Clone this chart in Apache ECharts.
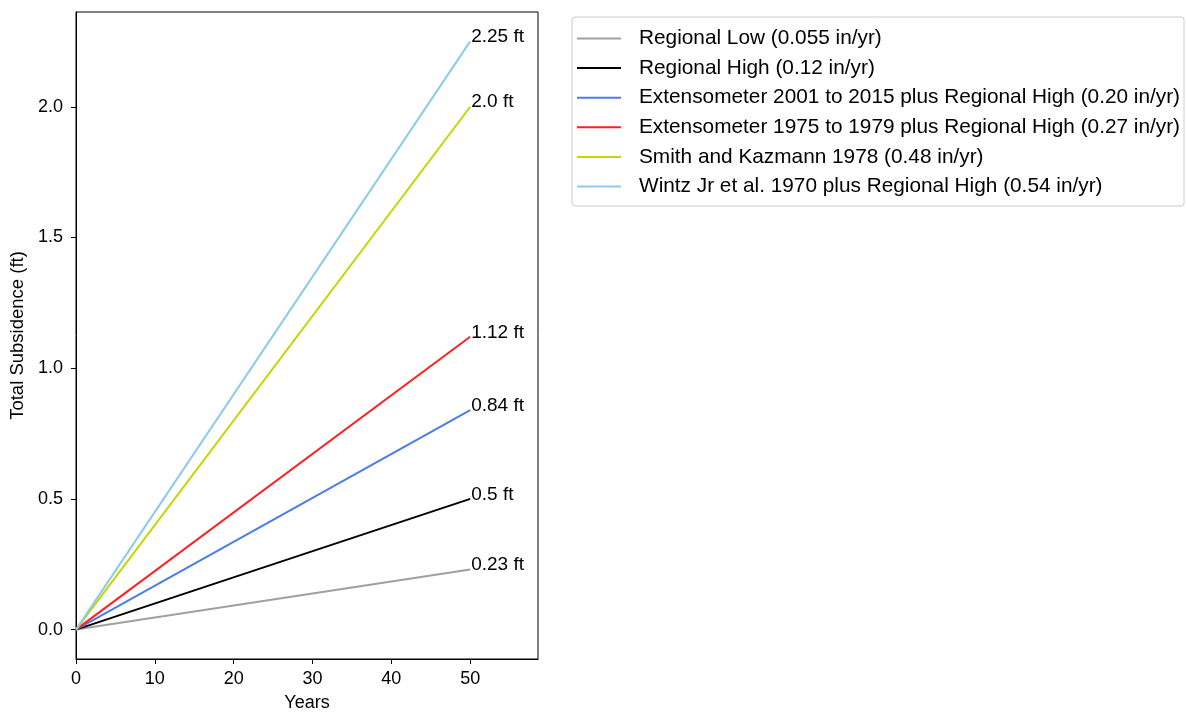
<!DOCTYPE html>
<html>
<head>
<meta charset="utf-8">
<script src="https://cdn.jsdelivr.net/npm/echarts@6/dist/echarts.min.js"></script>
<style>
html,body{margin:0;padding:0;background:#fff;}
#chart{width:1186px;height:713px;}
</style>
</head>
<body>
<div id="chart"></div>
<script>
var seriesNames = [
    'Regional Low (0.055 in/yr)',
    'Regional High (0.12 in/yr)',
    'Extensometer 2001 to 2015 plus Regional High (0.20 in/yr)',
    'Extensometer 1975 to 1979 plus Regional High (0.27 in/yr)',
    'Smith and Kazmann 1978 (0.48 in/yr)',
    'Wintz Jr et al. 1970 plus Regional High (0.54 in/yr)'
];
var years = [0, 50];
var startValues = [0, 0, 0, 0, 0, 0];
var endValues = [0.23, 0.5, 0.84, 1.12, 2.0, 2.25];
var endLabels = ['0.23 ft', '0.5 ft', '0.84 ft', '1.12 ft', '2.0 ft', '2.25 ft'];
var lineColors = ['#a0a0a0', '#000000', '#4a7de6', '#ff1f1f', '#c4d600', '#8ccbea'];
var xTicks = [0, 10, 20, 30, 40, 50];
var yTicks = [0, 0.5, 1.0, 1.5, 2.0];

var myChart = echarts.init(document.getElementById('chart'));
var font = 'Liberation Sans, Arial, sans-serif';

var seriesList = [];
for (var i = 0; i < seriesNames.length; i++) {
    seriesList.push({
        name: seriesNames[i],
        type: 'line',
        symbol: 'none',
        color: lineColors[i],
        lineStyle: {width: 2, color: lineColors[i]},
        data: [[years[0], startValues[i]], [years[1], endValues[i]]],
        endLabel: {
            show: true,
            formatter: endLabels[i],
            color: '#000',
            fontSize: 19,
            fontFamily: font,
            align: 'left',
            verticalAlign: 'bottom',
            offset: [-7, 5]
        },
        z: 2 + i
    });
}

var legendData = seriesNames.map(function (n) {
    return {name: n, icon: 'rect'};
});

var option = {
    animation: false,
    backgroundColor: '#fff',
    grid: {
        left: 76,
        top: 12,
        width: 462,
        height: 647,
        show: true,
        borderColor: '#000',
        borderWidth: 1,
        containLabel: false,
        outerBoundsMode: 'none'
    },
    legend: {
        orient: 'vertical',
        left: 572,
        top: 17,
        data: legendData,
        itemWidth: 44,
        itemHeight: 2,
        itemGap: 8.6,
        padding: [11, 4, 9, 5],
        borderColor: '#cccccc',
        borderWidth: 1,
        borderRadius: 3,
        textStyle: {fontSize: 20.8, fontFamily: font, color: '#000', padding: [0, 0, 0, 13]}
    },
    xAxis: {
        type: 'value',
        min: 0,
        max: 58.6,
        name: 'Years',
        nameLocation: 'middle',
        nameGap: 35,
        nameTextStyle: {fontSize: 18, fontFamily: font, color: '#000'},
        axisLine: {show: true, onZero: false, lineStyle: {color: '#000', width: 1}},
        axisTick: {show: true, length: 5, customValues: xTicks, lineStyle: {color: '#000'}},
        axisLabel: {
            customValues: xTicks,
            fontSize: 18,
            fontFamily: font,
            color: '#000',
            margin: 11
        },
        splitLine: {show: false}
    },
    yAxis: {
        type: 'value',
        min: -0.1125,
        max: 2.3625,
        name: 'Total Subsidence (ft)',
        nameLocation: 'middle',
        nameGap: 49,
        nameTextStyle: {fontSize: 18.5, fontFamily: font, color: '#000'},
        axisLine: {show: true, onZero: false, lineStyle: {color: '#000', width: 1}},
        axisTick: {show: true, length: 5, customValues: yTicks, lineStyle: {color: '#000'}},
        axisLabel: {
            customValues: yTicks,
            fontSize: 18,
            fontFamily: font,
            color: '#000',
            margin: 13,
            formatter: function (v) { return v.toFixed(1); }
        },
        splitLine: {show: false}
    },
    series: seriesList
};

myChart.setOption(option, true);
</script>
</body>
</html>
